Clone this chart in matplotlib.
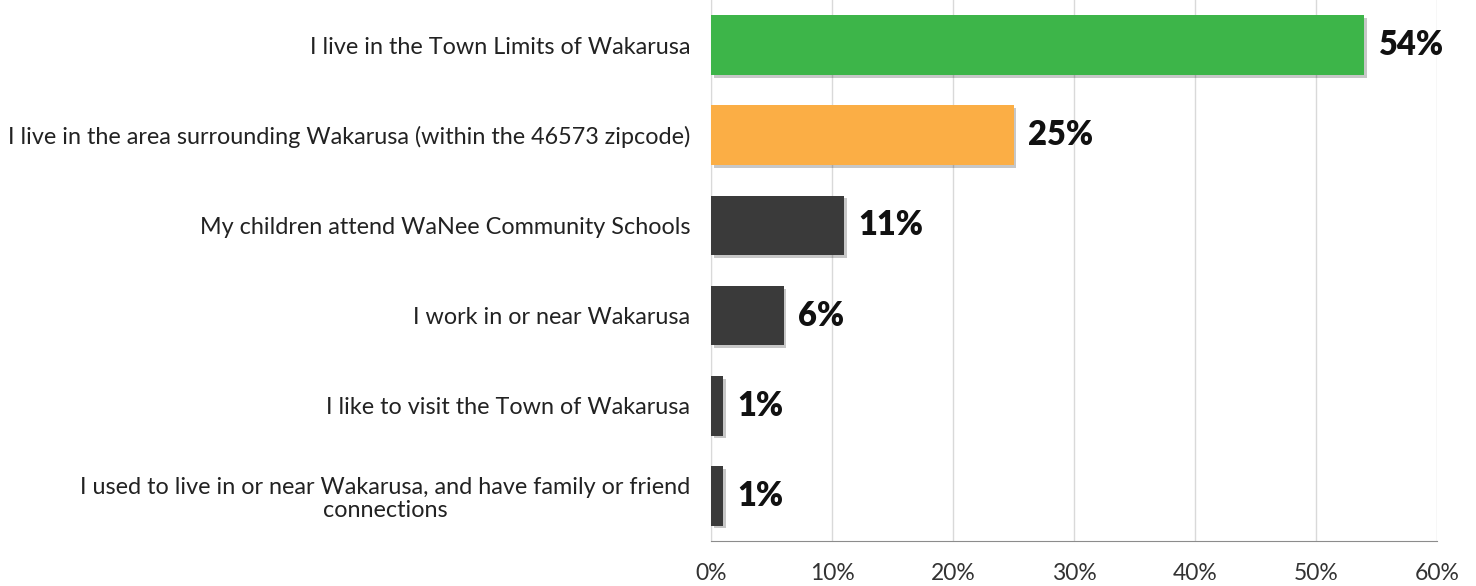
import matplotlib
matplotlib.use("Agg")
import matplotlib.pyplot as plt
import matplotlib.patheffects as pe
from matplotlib.ticker import FuncFormatter

categories = [
    "I live in the Town Limits of Wakarusa",
    "I live in the area surrounding Wakarusa (within the 46573 zipcode)",
    "My children attend WaNee Community Schools",
    "I work in or near Wakarusa",
    "I like to visit the Town of Wakarusa",
    "I used to live in or near Wakarusa, and have family or friend\nconnections",
]
values = [54, 25, 11, 6, 1, 1]
bar_colors = ["#3db549", "#fbae45", "#3a3a3a", "#3a3a3a", "#3a3a3a", "#3a3a3a"]
x_ticks = [0, 10, 20, 30, 40, 50, 60]

plt.rcParams["font.family"] = ["Lato", "DejaVu Sans"]

fig = plt.figure(figsize=(14.76, 5.86), dpi=100)
ax = fig.add_axes([711 / 1476, 45 / 586, 726 / 1476, 541 / 586])

y = list(range(len(categories)))
bars = ax.barh(y, values, height=0.66, color=bar_colors, zorder=3)
for b in bars:
    b.set_path_effects([
        pe.SimplePatchShadow(offset=(2, -2), shadow_rgbFace="#000000", alpha=0.22),
        pe.Normal(),
    ])

for yi, v in zip(y, values):
    ax.text(v + 1.2, yi, f"{v}%", va="center", ha="left",
            fontsize=23.5, fontweight="heavy", color="#111111", zorder=4)

ax.set_xlim(0, 60)
ax.set_ylim(len(categories) - 0.5, -0.5)
ax.set_xticks(x_ticks)
ax.xaxis.set_major_formatter(FuncFormatter(lambda v, p: f"{int(v)}%"))
ax.set_yticks(y)
ax.set_yticklabels(categories, fontsize=16.8, color="#222222",
                   multialignment="center", linespacing=1.15)
ax.tick_params(axis="y", length=0, pad=15)
ax.tick_params(axis="x", length=0, pad=16, labelsize=16.5, labelcolor="#333333")

ax.grid(axis="x", color="#d9d9d9", linewidth=1, zorder=0)
for side in ("top", "right"):
    ax.spines[side].set_visible(False)
ax.spines["left"].set_color("#d9d9d9")
ax.spines["bottom"].set_color("#8c8c8c")

fig.savefig("out.png", dpi=100)
